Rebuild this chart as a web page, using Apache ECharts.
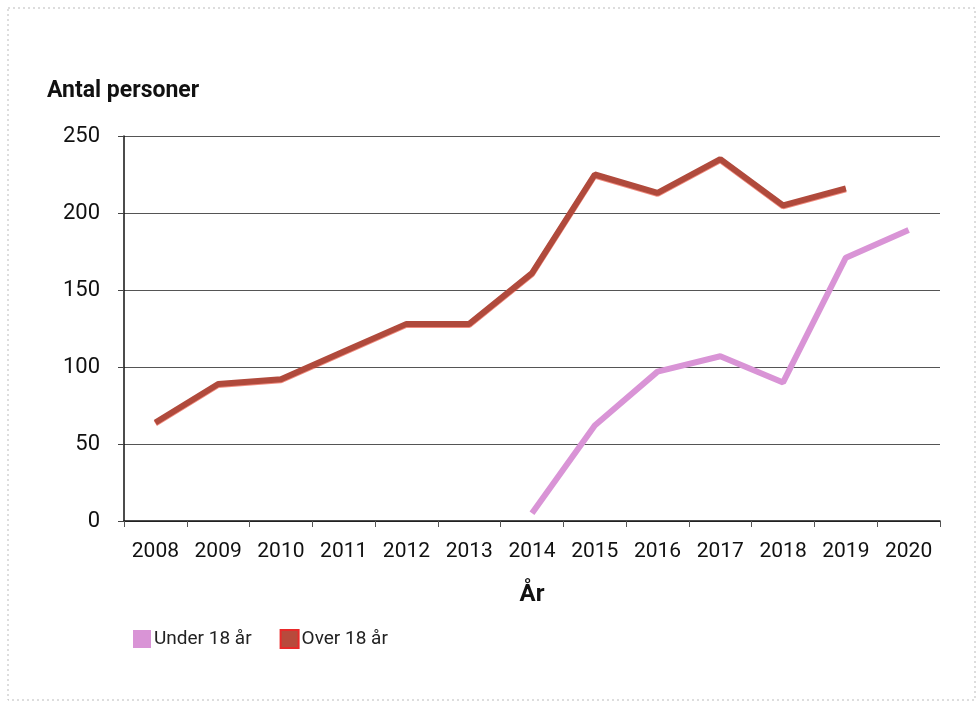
<!DOCTYPE html>
<html><head><meta charset="utf-8">
<script src="https://cdn.jsdelivr.net/npm/echarts@6/dist/echarts.min.js"></script>
<style>html,body{margin:0;padding:0;background:#fff}#c{width:979px;height:724px}</style>
</head><body><div id="c"></div>
<script>
const years = ['2008','2009','2010','2011','2012','2013','2014','2015','2016','2017','2018','2019','2020'];
const under18 = [null,null,null,null,null,null,5,62,97,107,90,171,189];
const over18 = [64,89,92,110,128,128,161,225,213,235,205,216,null];
const seriesNames = ['Under 18 år','Over 18 år'];
const font = 'Roboto, "DejaVu Sans", sans-serif';
const chart = echarts.init(document.getElementById('c'));
chart.setOption({
  animation:false,
  backgroundColor:'#fff',
  graphic:[{type:'rect',shape:{x:8,y:8,width:967,height:692},style:{fill:'none',stroke:'#bbb',lineWidth:1,lineDash:[2,3]}}],
  grid:{left:124,right:39,top:136,bottom:203},
  legend:{left:128,top:624,itemWidth:18,itemHeight:18,itemGap:28,
    textStyle:{fontFamily:font,fontSize:19,color:'#222',padding:[0,0,0,-2]},
    data:[{name:seriesNames[0],icon:'rect'},{name:seriesNames[1],icon:'rect'}]},
  xAxis:{type:'category',data:years,boundaryGap:true,
    name:'År',nameLocation:'middle',nameGap:62,
    nameTextStyle:{fontFamily:font,fontSize:24,fontWeight:'bold',color:'#111'},
    axisLine:{lineStyle:{color:'#111',width:1.5}},
    axisTick:{show:true,inside:false,length:6,interval:0,lineStyle:{color:'#555'}},
    axisLabel:{fontFamily:font,fontSize:21,color:'#111',margin:20,interval:0}},
  yAxis:{type:'value',min:0,max:250,interval:50,
    name:'Antal personer',nameLocation:'end',nameGap:33,
    nameTextStyle:{fontFamily:font,fontSize:23,fontWeight:'bold',color:'#111',align:'left',padding:[0,0,0,-77]},
    axisLine:{show:true,lineStyle:{color:'#111',width:1.5}},
    axisTick:{show:true,length:6,lineStyle:{color:'#444'}},
    axisLabel:{fontFamily:font,fontSize:22,color:'#111',margin:24}},
  series:[
    {name:seriesNames[0],type:'line',data:under18,symbol:'none',connectNulls:false,
     itemStyle:{color:'#d994d6'},lineStyle:{color:'#d994d6',width:6}},
    {name:seriesNames[1],type:'line',data:over18,symbol:'none',
     itemStyle:{color:'#b84a3c',borderColor:'#e82a2a',borderWidth:1},
     lineStyle:{color:'#b04a3c',width:6,shadowColor:'rgba(230,60,40,0.6)',shadowBlur:0,shadowOffsetY:1}}
  ]
});
chart.setOption({yAxis:{splitLine:{lineStyle:{color:'#555',width:1}}}});
</script></body></html>
